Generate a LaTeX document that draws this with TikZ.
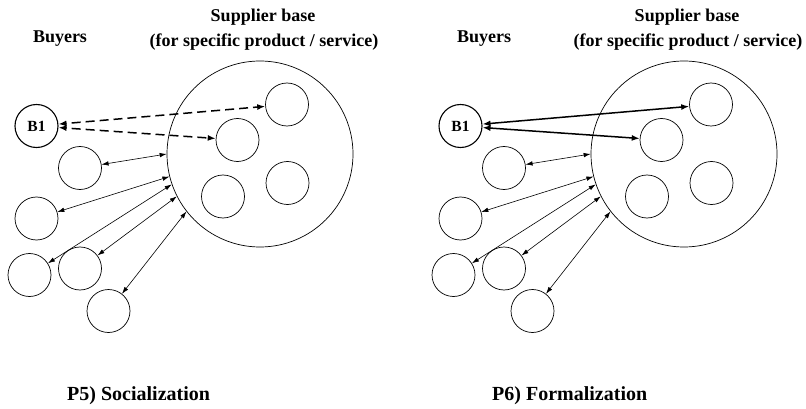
\documentclass[tikz,border=0pt]{standalone}
\usepackage{fontspec}
\setmainfont{Liberation Serif}
\usetikzlibrary{arrows.meta}
\begin{document}
\begin{tikzpicture}[x=1pt,y=-1pt,
  sm/.style={circle,draw,line width=0.7pt,minimum size=43pt,inner sep=0pt,font=\bfseries\fontsize{15.5}{17}\selectfont},
  bigc/.style={circle,draw,line width=0.7pt,minimum size=186pt,inner sep=0pt},
  thinarr/.style={line width=0.6pt,{Latex[length=7pt,width=4.5pt]}-{Latex[length=7pt,width=4.5pt]}},
  dasharr/.style={line width=1.5pt,dash pattern=on 9pt off 5pt,dash phase=-6pt,{Latex[length=8pt,width=6pt]}-{Latex[length=8pt,width=6pt]}},
  solidarr/.style={line width=1.5pt,{Latex[length=8pt,width=6pt]}-{Latex[length=8pt,width=6pt]}},
  lab/.style={font=\bfseries\fontsize{18}{20}\selectfont,inner sep=0pt},
  captext/.style={font=\bfseries\fontsize{20}{22}\selectfont,inner sep=0pt}]
\useasboundingbox[fill=white] (0,0) rectangle (806,409);
\foreach \ox/\p in {0/L,424/R}{
  \begin{scope}[xshift=\ox]
  \node[bigc] (big\p) at (260,154) {};
  \node[sm] (s1\p) at (287,104.5) {};
  \node[sm] (s2\p) at (237.5,140) {};
  \node[sm] (s3\p) at (287.5,183) {};
  \node[sm] (s4\p) at (223,196.5) {};
  \node[sm,line width=1.1pt] (b1\p) at (36.5,126) {B1};
  \node[sm] (b2\p) at (80,168) {};
  \node[sm] (b3\p) at (36.5,218.5) {};
  \node[sm] (b4\p) at (29.5,275) {};
  \node[sm] (b5\p) at (80,268.5) {};
  \node[sm] (b6\p) at (108.5,311) {};
  \draw[thinarr] (b2\p) -- (big\p.180);
  \draw[thinarr] (b3\p) -- (big\p.194);
  \draw[thinarr] (b4\p) -- (big\p.199);
  \draw[thinarr] (b5\p) -- (big\p.207);
  \draw[thinarr] (b6\p) -- (big\p.218);
  \node[lab] (buy\p) at (60,39) {Buyers};
  \node[lab] (sb\p) at (263,17) {Supplier base};
  \node[lab] (fs\p) at (264,42) {(for specific product / service)};
  \end{scope}
}
\draw[dasharr] (b1L) -- (s1L);
\draw[dasharr] (b1L) -- (s2L);
\draw[solidarr] (b1R) -- (s1R);
\draw[solidarr] (b1R) -- (s2R);
\node[captext,anchor=west] (p5) at (67,396) {P5) Socialization};
\node[captext,anchor=west] (p6) at (492,396) {P6) Formalization};
\end{tikzpicture}
\end{document}
